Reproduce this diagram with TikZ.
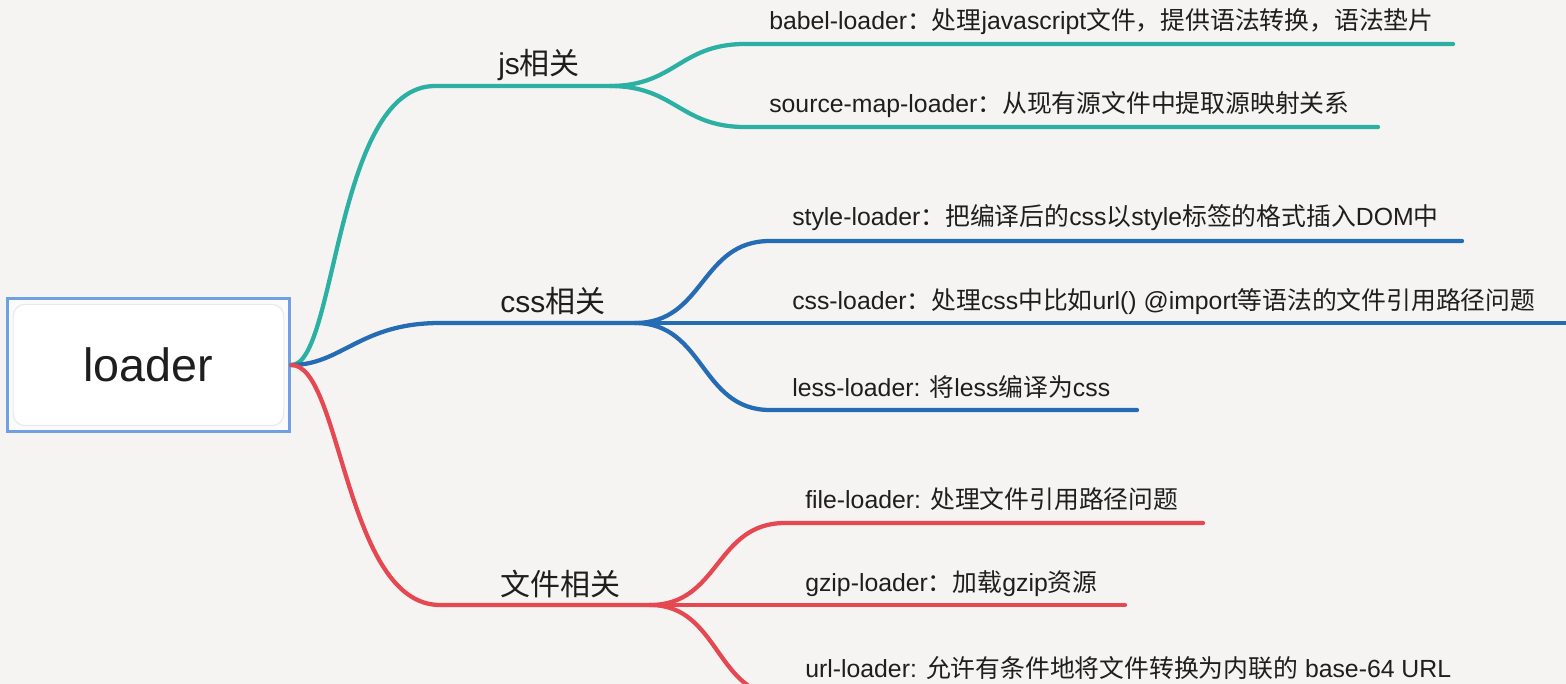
\documentclass[tikz,border=0pt]{standalone}
\usepackage{fontspec}
\setmainfont{Liberation Sans}
\newfontfamily\cjk{Noto Sans CJK SC}
\newcommand{\zh}[1]{{\cjk #1}}
\definecolor{bgc}{RGB}{245,244,242}
\definecolor{tealc}{RGB}{43,176,163}
\definecolor{bluec}{RGB}{37,108,180}
\definecolor{redc}{RGB}{229,72,80}
\definecolor{boxc}{RGB}{112,160,228}
\definecolor{txtc}{RGB}{30,30,30}
\tikzset{
  link/.style={line width=3.2pt, line cap=round},
  leaftext/.style={anchor=base west, inner sep=0pt, text=txtc, font=\fontsize{18.6pt}{21pt}\selectfont},
  branchtext/.style={anchor=base west, inner sep=0pt, text=txtc, font=\fontsize{22.5pt}{26pt}\selectfont},
}
\begin{document}
\begin{tikzpicture}[x=0.75pt,y=-0.75pt]
\fill[bgc] (0,0) rectangle (1566,684);
\useasboundingbox (0,0) rectangle (1566,684);
\clip (0,0) rectangle (1566,684);

% root
\node[draw=boxc, line width=2.4pt, fill=white!97!gray, minimum width=212pt, minimum height=100pt,
  text=txtc, font=\fontsize{35pt}{40pt}\selectfont,
  path picture={\fill[white, draw=gray!18, line width=0.8pt, rounded corners=9pt]
    ([shift={(6,6)}]path picture bounding box.north west) rectangle
    ([shift={(-6,-6)}]path picture bounding box.south east);}]
  (root) at (148.5,365) {loader};

% junctions and ends
\coordinate (jsH) at (435,86);   \coordinate (jsJ) at (610,86);
\coordinate (cssH) at (440,323); \coordinate (cssJ) at (635,323);
\coordinate (fileH) at (440,605); \coordinate (fileJ) at (650,605);

\coordinate (babelS) at (745,44);  \coordinate (babelE) at (1453,44);
\coordinate (srcS) at (745,127);   \coordinate (srcE) at (1378,127);
\coordinate (styleS) at (770,241); \coordinate (styleE) at (1462,241);
\coordinate (cssE) at (1575,323);
\coordinate (lessS) at (770,410);  \coordinate (lessE) at (1137,410);
\coordinate (fileS) at (785,523);  \coordinate (fileE) at (1203,523);
\coordinate (gzipE) at (1125,605);
\coordinate (urlS) at (785,697);   \coordinate (urlE) at (1400,697);

% branches
\draw[link, tealc] (root.east) .. controls +(45,0) and +(-100,0) .. (jsH) -- (jsJ);
\draw[link, bluec] (root.east) .. controls +(50,0) and +(-80,0) .. (cssH) -- (cssJ);
\draw[link, redc] (root.east) .. controls +(50,0) and +(-95,0) .. (fileH) -- (fileJ);

% leaves
\draw[link, tealc] (jsJ) .. controls +(65,0) and +(-65,0) .. (babelS) -- (babelE);
\draw[link, tealc] (jsJ) .. controls +(65,0) and +(-65,0) .. (srcS) -- (srcE);
\draw[link, bluec] (cssJ) .. controls +(70,0) and +(-70,0) .. (styleS) -- (styleE);
\draw[link, bluec] (cssJ) -- (cssE);
\draw[link, bluec] (cssJ) .. controls +(70,0) and +(-70,0) .. (lessS) -- (lessE);
\draw[link, redc] (fileJ) .. controls +(70,0) and +(-70,0) .. (fileS) -- (fileE);
\draw[link, redc] (fileJ) -- (gzipE);
\draw[link, redc] (fileJ) .. controls +(70,0) and +(-70,0) .. (urlS) -- (urlE);

% branch labels
\node[branchtext] (js) at (498,75) {js\zh{相关}};
\node[branchtext] (css) at (500,312) {css\zh{相关}};
\node[branchtext] (file) at (500,595) {\zh{文件相关}};

% leaf labels
\node[leaftext] (babel) at (769,30) {babel-loader\zh{：处理}javascript\zh{文件，提供语法转换，语法垫片}};
\node[leaftext] (src) at (769,113) {source-map-loader\zh{：从现有源文件中提取源映射关系}};
\node[leaftext] (style) at (792,226) {style-loader\zh{：把编译后的}css\zh{以}style\zh{标签的格式插入}DOM\zh{中}};
\node[leaftext] (cssl) at (792,309) {css-loader\zh{：处理}css\zh{中比如}url() @import\zh{等语法的文件引用路径问题}};
\node[leaftext] (less) at (792,396) {less-loader: \zh{将}less\zh{编译为}css};
\node[leaftext] (filel) at (805,508) {file-loader: \zh{处理文件引用路径问题}};
\node[leaftext] (gzip) at (805,591) {gzip-loader\zh{：加载}gzip\zh{资源}};
\node[leaftext] (url) at (805,677) {url-loader: \zh{允许有条件地将文件转换为内联的} base-64 URL};
\end{tikzpicture}
\end{document}
